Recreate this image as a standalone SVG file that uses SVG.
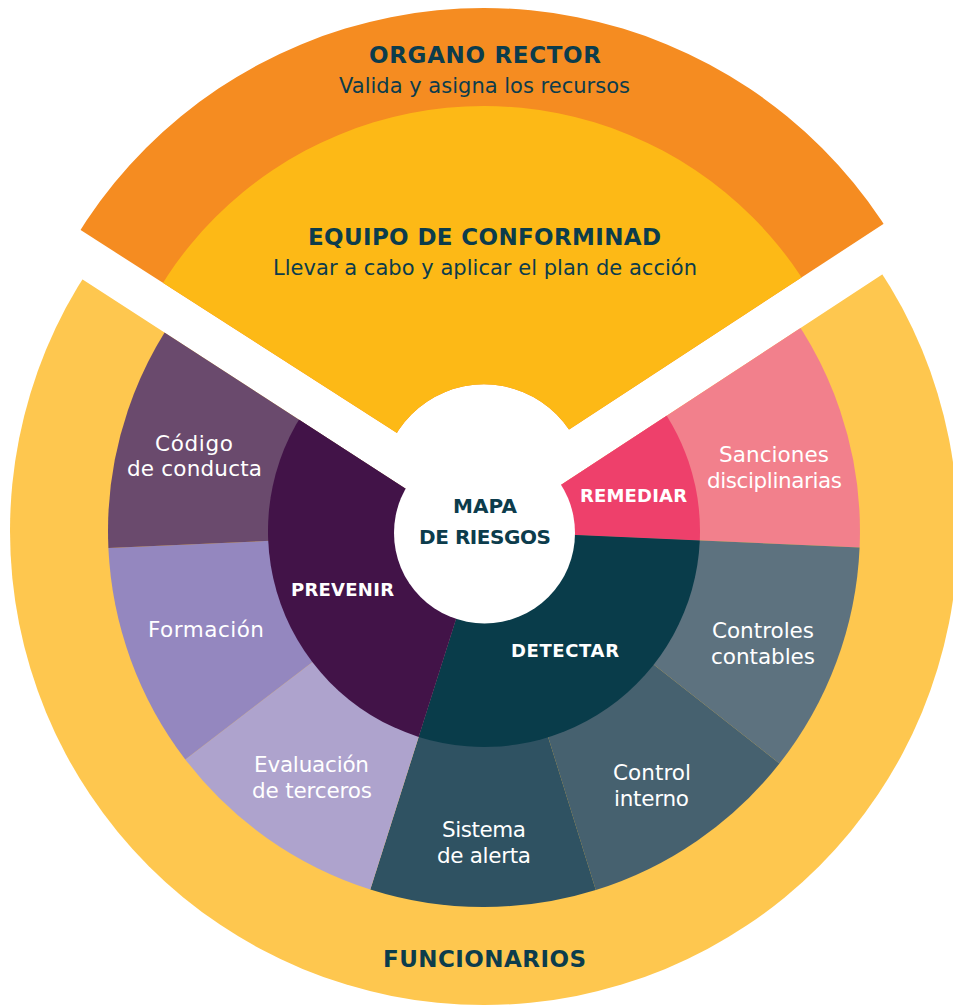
<svg xmlns="http://www.w3.org/2000/svg" width="953" height="1005" viewBox="0 0 953 1005">
<defs>
<clipPath id="clipTop"><polygon points="481.2,487 -50,146.2 -50,-50 1000,-50 1000,147.7"/></clipPath>
<clipPath id="clipLow"><polygon points="480.8,537.4 -50,193.6 -50,1100 1000,1100 1000,197.3"/></clipPath>
</defs>
<style>
.b{font-family:"DejaVu Sans","Liberation Sans",sans-serif;font-weight:bold;text-anchor:middle}
.r{font-family:"DejaVu Sans","Liberation Sans",sans-serif;font-weight:normal;text-anchor:middle}
.dk{fill:#0C3C4C}
.wh{fill:#FFFFFF}
.t23{font-size:23px}
.t20{font-size:20px}
.t18{font-size:18px}
.t21{font-size:21px}
.t215{font-size:21.5px}
</style>
<rect width="953" height="1005" fill="#FFFFFF"/>

<g id="organo-rector" clip-path="url(#clipTop)">
<path d="M6,486 a478,478 0 1,0 956,0 a478,478 0 1,0 -956,0 Z M381.4,487 a102.6,102.6 0 1,0 205.2,0 a102.6,102.6 0 1,0 -205.2,0 Z" fill-rule="evenodd" fill="#F58C21"/>
</g>
<g id="equipo-conformidad" clip-path="url(#clipTop)">
<path d="M104,486 a380,380 0 1,0 760,0 a380,380 0 1,0 -760,0 Z M381.4,487 a102.6,102.6 0 1,0 205.2,0 a102.6,102.6 0 1,0 -205.2,0 Z" fill-rule="evenodd" fill="#FDB916"/>
</g>

<g id="funcionarios" clip-path="url(#clipLow)">
<circle cx="484" cy="531" r="474" fill="#FEC74F"/>
</g>

<g id="outer-sectors" clip-path="url(#clipLow)">
<path id="sanciones" d="M484,531 L772.0,289.3 A376,376 0 0,1 859.6,547.4 Z" fill="#F2808C"/>
<path id="controles-contables" d="M484,531 L859.6,547.4 A376,376 0 0,1 779.5,763.5 Z" fill="#5D727F"/>
<path id="control-interno" d="M484,531 L779.5,763.5 A376,376 0 0,1 595.8,890.0 Z" fill="#46616F"/>
<path id="sistema-alerta" d="M484,531 L595.8,890.0 A376,376 0 0,1 370.3,889.4 Z" fill="#2F5262"/>
<path id="evaluacion-terceros" d="M484,531 L370.3,889.4 A376,376 0 0,1 185.3,759.4 Z" fill="#AEA3CD"/>
<path id="formacion" d="M484,531 L185.3,759.4 A376,376 0 0,1 108.4,548.1 Z" fill="#9487BF"/>
<path id="codigo-conducta" d="M484,531 L108.4,548.1 A376,376 0 0,1 196.0,289.3 Z" fill="#6A4A6D"/>
</g>

<g id="inner-sectors" clip-path="url(#clipLow)">
<path id="remediar" d="M484,531 L649.5,392.2 A216,216 0 0,1 699.8,540.4 Z" fill="#EE406B"/>
<path id="detectar" d="M484,531 L699.8,540.4 A216,216 0 0,1 418.7,736.9 Z" fill="#093C4A"/>
<path id="prevenir" d="M484,531 L418.7,736.9 A216,216 0 0,1 318.5,392.2 Z" fill="#421348"/>
</g>

<g id="mapa-riesgos">
<circle cx="484.5" cy="533" r="90.5" fill="#FFFFFF"/>
<text class="b dk t20" x="485" y="513" textLength="64" lengthAdjust="spacing">MAPA</text>
<text class="b dk t20" x="485" y="544" textLength="132" lengthAdjust="spacing">DE RIESGOS</text>
</g>

<g id="connectors"></g>

<g id="labels-top">
<text class="b dk t23" x="485" y="63.3" textLength="232" lengthAdjust="spacing">ORGANO RECTOR</text>
<text class="r dk t21" x="484.5" y="93.3" textLength="291" lengthAdjust="spacing">Valida y asigna los recursos</text>
<text class="b dk t23" x="484.5" y="245" textLength="353" lengthAdjust="spacing">EQUIPO DE CONFORMINAD</text>
<text class="r dk t21" x="485" y="275" textLength="424" lengthAdjust="spacing">Llevar a cabo y aplicar el plan de acción</text>
<text class="b dk t23" x="484.5" y="967" textLength="203" lengthAdjust="spacing">FUNCIONARIOS</text>
</g>

<g id="labels-inner">
<text class="b wh t18" x="633.5" y="502" textLength="107" lengthAdjust="spacing">REMEDIAR</text>
<text class="b wh t18" x="565" y="657" textLength="108" lengthAdjust="spacing">DETECTAR</text>
<text class="b wh t18" x="342.5" y="596" textLength="103" lengthAdjust="spacing">PREVENIR</text>
</g>

<g id="labels-outer">
<text class="r wh t215" x="194" y="451" textLength="78" lengthAdjust="spacing">Código</text>
<text class="r wh t215" x="194.5" y="476" textLength="135" lengthAdjust="spacing">de conducta</text>
<text class="r wh t215" x="206" y="637" textLength="116" lengthAdjust="spacing">Formación</text>
<text class="r wh t215" x="311.5" y="772" textLength="115" lengthAdjust="spacing">Evaluación</text>
<text class="r wh t215" x="312" y="798" textLength="120" lengthAdjust="spacing">de terceros</text>
<text class="r wh t215" x="484" y="837" textLength="84" lengthAdjust="spacing">Sistema</text>
<text class="r wh t215" x="484" y="863" textLength="94" lengthAdjust="spacing">de alerta</text>
<text class="r wh t215" x="652" y="780" textLength="78" lengthAdjust="spacing">Control</text>
<text class="r wh t215" x="651.5" y="806" textLength="75" lengthAdjust="spacing">interno</text>
<text class="r wh t215" x="763" y="638" textLength="102" lengthAdjust="spacing">Controles</text>
<text class="r wh t215" x="763" y="664" textLength="104" lengthAdjust="spacing">contables</text>
<text class="r wh t215" x="774" y="462" textLength="110" lengthAdjust="spacing">Sanciones</text>
<text class="r wh t215" x="774.5" y="488" textLength="135" lengthAdjust="spacing">disciplinarias</text>
</g>
</svg>
